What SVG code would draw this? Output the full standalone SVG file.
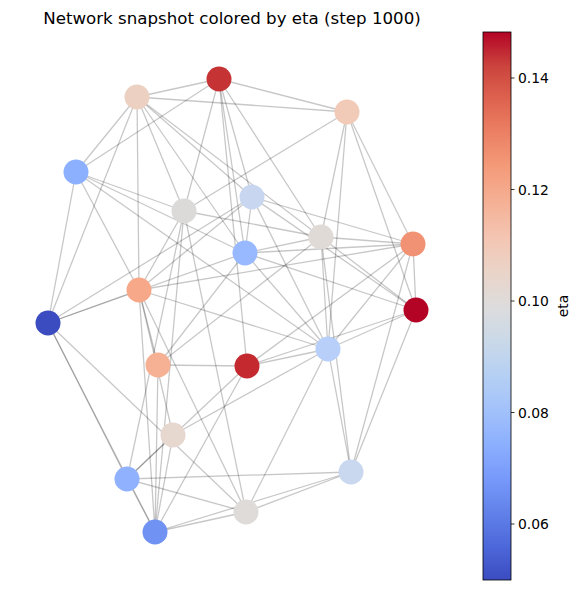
<svg xmlns="http://www.w3.org/2000/svg" width="580" height="590" viewBox="0 0 580 590">
<defs>
<style>
.e{stroke:#000;stroke-opacity:0.22;stroke-width:1.3;fill:none}
.n{stroke:none}
.t{font-family:"DejaVu Sans","Liberation Sans",sans-serif;fill:#000}
</style>
<linearGradient id="cw" x1="0" y1="1" x2="0" y2="0">
<stop offset="0" stop-color="#3b4cc0"/>
<stop offset="0.0625" stop-color="#4d68da"/>
<stop offset="0.125" stop-color="#6282ea"/>
<stop offset="0.1875" stop-color="#789afb"/>
<stop offset="0.25" stop-color="#8db0fe"/>
<stop offset="0.3125" stop-color="#a3c2fa"/>
<stop offset="0.375" stop-color="#b6d0f3"/>
<stop offset="0.4375" stop-color="#cad9e8"/>
<stop offset="0.5" stop-color="#dddcdc"/>
<stop offset="0.5625" stop-color="#ead4c8"/>
<stop offset="0.625" stop-color="#f4c5b2"/>
<stop offset="0.6875" stop-color="#f5b196"/>
<stop offset="0.75" stop-color="#f49c7b"/>
<stop offset="0.8125" stop-color="#ec8265"/>
<stop offset="0.875" stop-color="#df6450"/>
<stop offset="0.9375" stop-color="#cb443d"/>
<stop offset="1" stop-color="#b40426"/>
</linearGradient>
</defs>
<rect width="580" height="590" fill="#fff"/>
<text class="t" x="232" y="24" font-size="16.67" text-anchor="middle">Network snapshot colored by eta (step 1000)</text>
<g id="edges">
<line class="e" x1="219" y1="79" x2="137" y2="97"/>
<line class="e" x1="219" y1="79" x2="347" y2="112"/>
<line class="e" x1="219" y1="79" x2="76" y2="172"/>
<line class="e" x1="219" y1="79" x2="184" y2="211"/>
<line class="e" x1="219" y1="79" x2="252" y2="197"/>
<line class="e" x1="219" y1="79" x2="321" y2="237"/>
<line class="e" x1="219" y1="79" x2="245" y2="253"/>
<line class="e" x1="219" y1="79" x2="247" y2="366"/>
<line class="e" x1="137" y1="97" x2="347" y2="112"/>
<line class="e" x1="137" y1="97" x2="76" y2="172"/>
<line class="e" x1="137" y1="97" x2="48" y2="323"/>
<line class="e" x1="137" y1="97" x2="139" y2="290"/>
<line class="e" x1="137" y1="97" x2="184" y2="211"/>
<line class="e" x1="137" y1="97" x2="252" y2="197"/>
<line class="e" x1="137" y1="97" x2="321" y2="237"/>
<line class="e" x1="137" y1="97" x2="245" y2="253"/>
<line class="e" x1="347" y1="112" x2="184" y2="211"/>
<line class="e" x1="347" y1="112" x2="321" y2="237"/>
<line class="e" x1="347" y1="112" x2="328" y2="349"/>
<line class="e" x1="347" y1="112" x2="413" y2="244"/>
<line class="e" x1="347" y1="112" x2="416" y2="310"/>
<line class="e" x1="76" y1="172" x2="48" y2="323"/>
<line class="e" x1="76" y1="172" x2="184" y2="211"/>
<line class="e" x1="76" y1="172" x2="139" y2="290"/>
<line class="e" x1="76" y1="172" x2="328" y2="349"/>
<line class="e" x1="76" y1="172" x2="245" y2="253"/>
<line class="e" x1="184" y1="211" x2="321" y2="237"/>
<line class="e" x1="184" y1="211" x2="139" y2="290"/>
<line class="e" x1="184" y1="211" x2="246" y2="512"/>
<line class="e" x1="184" y1="211" x2="127" y2="479"/>
<line class="e" x1="184" y1="211" x2="155" y2="532"/>
<line class="e" x1="252" y1="197" x2="48" y2="323"/>
<line class="e" x1="252" y1="197" x2="413" y2="244"/>
<line class="e" x1="252" y1="197" x2="416" y2="310"/>
<line class="e" x1="252" y1="197" x2="245" y2="253"/>
<line class="e" x1="252" y1="197" x2="139" y2="290"/>
<line class="e" x1="252" y1="197" x2="328" y2="349"/>
<line class="e" x1="321" y1="237" x2="413" y2="244"/>
<line class="e" x1="321" y1="237" x2="245" y2="253"/>
<line class="e" x1="321" y1="237" x2="416" y2="310"/>
<line class="e" x1="321" y1="237" x2="328" y2="349"/>
<line class="e" x1="321" y1="237" x2="158" y2="365"/>
<line class="e" x1="321" y1="237" x2="351" y2="472"/>
<line class="e" x1="413" y1="244" x2="245" y2="253"/>
<line class="e" x1="413" y1="244" x2="416" y2="310"/>
<line class="e" x1="413" y1="244" x2="328" y2="349"/>
<line class="e" x1="413" y1="244" x2="351" y2="472"/>
<line class="e" x1="413" y1="244" x2="247" y2="366"/>
<line class="e" x1="413" y1="244" x2="139" y2="290"/>
<line class="e" x1="245" y1="253" x2="416" y2="310"/>
<line class="e" x1="245" y1="253" x2="328" y2="349"/>
<line class="e" x1="245" y1="253" x2="48" y2="323"/>
<line class="e" x1="245" y1="253" x2="158" y2="365"/>
<line class="e" x1="139" y1="290" x2="48" y2="323"/>
<line class="e" x1="139" y1="290" x2="158" y2="365"/>
<line class="e" x1="139" y1="290" x2="173" y2="435"/>
<line class="e" x1="139" y1="290" x2="328" y2="349"/>
<line class="e" x1="139" y1="290" x2="246" y2="512"/>
<line class="e" x1="139" y1="290" x2="155" y2="532"/>
<line class="e" x1="48" y1="323" x2="127" y2="479"/>
<line class="e" x1="48" y1="323" x2="155" y2="532"/>
<line class="e" x1="48" y1="323" x2="246" y2="512"/>
<line class="e" x1="416" y1="310" x2="328" y2="349"/>
<line class="e" x1="416" y1="310" x2="247" y2="366"/>
<line class="e" x1="416" y1="310" x2="351" y2="472"/>
<line class="e" x1="328" y1="349" x2="247" y2="366"/>
<line class="e" x1="328" y1="349" x2="351" y2="472"/>
<line class="e" x1="328" y1="349" x2="246" y2="512"/>
<line class="e" x1="328" y1="349" x2="173" y2="435"/>
<line class="e" x1="158" y1="365" x2="247" y2="366"/>
<line class="e" x1="158" y1="365" x2="155" y2="532"/>
<line class="e" x1="247" y1="366" x2="127" y2="479"/>
<line class="e" x1="247" y1="366" x2="155" y2="532"/>
<line class="e" x1="173" y1="435" x2="127" y2="479"/>
<line class="e" x1="173" y1="435" x2="155" y2="532"/>
<line class="e" x1="351" y1="472" x2="127" y2="479"/>
<line class="e" x1="351" y1="472" x2="246" y2="512"/>
<line class="e" x1="351" y1="472" x2="155" y2="532"/>
<line class="e" x1="127" y1="479" x2="246" y2="512"/>
<line class="e" x1="127" y1="479" x2="155" y2="532"/>
<line class="e" x1="155" y1="532" x2="246" y2="512"/>
</g>
<g id="nA"><circle class="n" cx="219" cy="79" r="12.5" fill="#c53334"/></g>
<g id="nB"><circle class="n" cx="137" cy="97" r="12.5" fill="#ecd0c1"/></g>
<g id="nC"><circle class="n" cx="347" cy="112" r="12.5" fill="#f1cbb7"/></g>
<g id="nD"><circle class="n" cx="76" cy="172" r="12.5" fill="#8db0fe"/></g>
<g id="nE"><circle class="n" cx="184" cy="211" r="12.5" fill="#dcdad8"/></g>
<g id="nF"><circle class="n" cx="252" cy="197" r="12.5" fill="#c8d7ef"/></g>
<g id="nG"><circle class="n" cx="321" cy="237" r="12.5" fill="#e0dad6"/></g>
<g id="nH"><circle class="n" cx="413" cy="244" r="12.5" fill="#f29274"/></g>
<g id="nI"><circle class="n" cx="245" cy="253" r="12.5" fill="#98b9ff"/></g>
<g id="nJ"><circle class="n" cx="139" cy="290" r="12.5" fill="#f6a889"/></g>
<g id="nK"><circle class="n" cx="48" cy="323" r="12.5" fill="#3b4cc0"/></g>
<g id="nL"><circle class="n" cx="416" cy="310" r="12.5" fill="#b40426"/></g>
<g id="nM"><circle class="n" cx="328" cy="349" r="12.5" fill="#b7cff9"/></g>
<g id="nN"><circle class="n" cx="158" cy="365" r="12.5" fill="#f6b194"/></g>
<g id="nO"><circle class="n" cx="247" cy="366" r="12.5" fill="#c3292e"/></g>
<g id="nP"><circle class="n" cx="173" cy="435" r="12.5" fill="#e6d7cf"/></g>
<g id="nQ"><circle class="n" cx="351" cy="472" r="12.5" fill="#c9d8ef"/></g>
<g id="nR"><circle class="n" cx="127" cy="479" r="12.5" fill="#90b2fe"/></g>
<g id="nS"><circle class="n" cx="246" cy="512" r="12.5" fill="#dfdbd9"/></g>
<g id="nT"><circle class="n" cx="155" cy="532" r="12.5" fill="#6f92f3"/></g>
<g id="colorbar">
<rect x="483" y="32" width="28" height="548" fill="url(#cw)" stroke="#000" stroke-width="0.8"/>
<g stroke="#000" stroke-width="0.8">
<line x1="511" y1="78" x2="514.5" y2="78"/>
<line x1="511" y1="189.5" x2="514.5" y2="189.5"/>
<line x1="511" y1="301" x2="514.5" y2="301"/>
<line x1="511" y1="412.5" x2="514.5" y2="412.5"/>
<line x1="511" y1="524" x2="514.5" y2="524"/>
</g>
<g class="t" font-size="13.9">
<text x="518" y="83">0.14</text>
<text x="518" y="194.5">0.12</text>
<text x="518" y="306">0.10</text>
<text x="518" y="417.5">0.08</text>
<text x="518" y="529">0.06</text>
</g>
<text class="t" font-size="13.9" transform="translate(568,306) rotate(-90)" text-anchor="middle">eta</text>
</g>
</svg>
